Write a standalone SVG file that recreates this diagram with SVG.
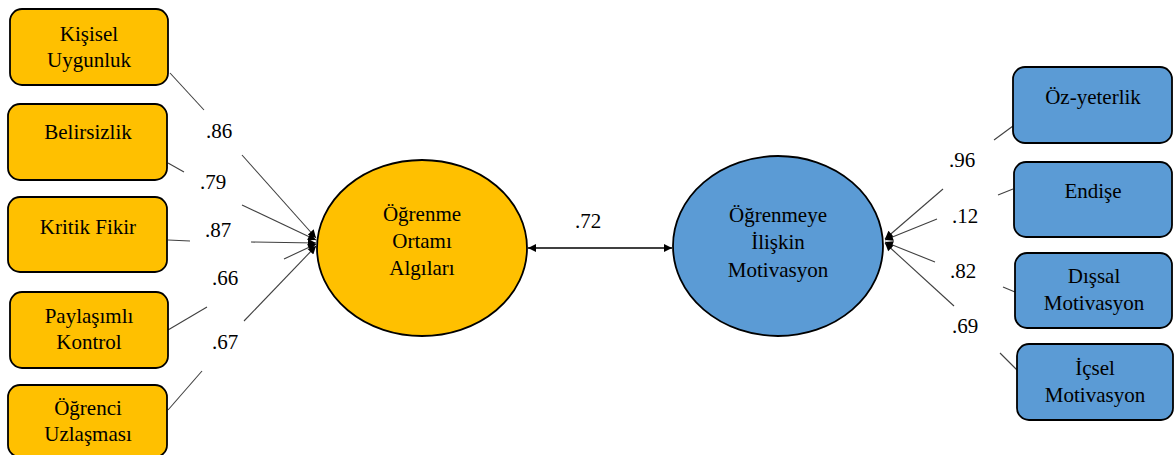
<svg xmlns="http://www.w3.org/2000/svg" width="1174" height="455" viewBox="0 0 1174 455">
<style>
text{font-family:'Liberation Serif','Times New Roman',serif;font-size:21px;fill:#000;text-anchor:middle}
.o{fill:#FFC000;stroke:#000;stroke-width:1.8}
.b{fill:#5B9BD5;stroke:#000;stroke-width:1.8}
.c{stroke:#404040;stroke-width:1.1;fill:none}
.k{stroke:#000;stroke-width:1.3;fill:none}
</style>
<defs>
<marker id="ah" viewBox="0 0 10 10" refX="10" refY="5" markerWidth="10" markerHeight="8" markerUnits="userSpaceOnUse" orient="auto">
<path d="M0,0L10,5L0,10z" fill="#000"/>
</marker>
<marker id="as" viewBox="0 0 10 10" refX="0" refY="5" markerWidth="10" markerHeight="8" markerUnits="userSpaceOnUse" orient="auto">
<path d="M10,0L0,5L10,10z" fill="#000"/>
</marker>
</defs>
<rect width="1174" height="455" fill="#fff"/>

<g id="connectors">
<line class="c" x1="170" y1="73" x2="204" y2="110"/>
<line class="c" x1="242" y1="155" x2="316" y2="238" marker-end="url(#ah)"/>
<line class="c" x1="168" y1="163" x2="184" y2="172"/>
<line class="c" x1="242" y1="205" x2="316" y2="240" marker-end="url(#ah)"/>
<line class="c" x1="168" y1="240" x2="190" y2="241"/>
<line class="c" x1="251" y1="242" x2="316" y2="243" marker-end="url(#ah)"/>
<line class="c" x1="168" y1="330" x2="207" y2="307"/>
<line class="c" x1="284" y1="259" x2="316" y2="244" marker-end="url(#ah)"/>
<line class="c" x1="168" y1="410" x2="202" y2="371"/>
<line class="c" x1="244" y1="321" x2="316" y2="246" marker-end="url(#ah)"/>
<text x="219" y="138">.86</text>
<text x="213" y="189">.79</text>
<text x="218" y="237">.87</text>
<text x="225" y="285">.66</text>
<text x="225" y="349">.67</text>
<line class="k" x1="528" y1="248" x2="672" y2="248" marker-start="url(#as)" marker-end="url(#ah)"/>
<text x="588" y="228">.72</text>
<line class="c" x1="1013" y1="126" x2="994" y2="140"/>
<line class="c" x1="943" y1="189" x2="885" y2="239" marker-end="url(#ah)"/>
<line class="c" x1="1013" y1="189" x2="998" y2="195"/>
<line class="c" x1="937" y1="219" x2="885" y2="240" marker-end="url(#ah)"/>
<line class="c" x1="1015" y1="292" x2="1003" y2="287"/>
<line class="c" x1="935" y1="262" x2="885" y2="242" marker-end="url(#ah)"/>
<line class="c" x1="1017" y1="370" x2="1000" y2="353"/>
<line class="c" x1="954" y1="306" x2="885" y2="243" marker-end="url(#ah)"/>
<text x="962" y="167">.96</text>
<text x="965" y="223">.12</text>
<text x="963" y="278">.82</text>
<text x="965" y="333">.69</text>
</g>

<g id="kisisel"><rect class="o" x="10" y="9" width="158" height="76" rx="12"/><text x="89" y="41">Kişisel</text><text x="89" y="67">Uygunluk</text></g>
<g id="belirsizlik"><rect class="o" x="8" y="104" width="159" height="76" rx="12"/><text x="88" y="139">Belirsizlik</text></g>
<g id="kritik"><rect class="o" x="8" y="197" width="159" height="75" rx="12"/><text x="88" y="234">Kritik Fikir</text></g>
<g id="paylasimli"><rect class="o" x="10" y="292" width="158" height="76" rx="12"/><text x="89" y="323">Paylaşımlı</text><text x="89" y="349">Kontrol</text></g>
<g id="ogrenci"><rect class="o" x="8" y="385" width="159" height="72" rx="12"/><text x="88" y="415">Öğrenci</text><text x="88" y="441">Uzlaşması</text></g>

<g id="oga"><ellipse class="o" cx="422" cy="248" rx="105" ry="88"/><text x="422" y="221">Öğrenme</text><text x="422" y="248">Ortamı</text><text x="422" y="275">Algıları</text></g>
<g id="oim"><ellipse class="b" cx="778" cy="246" rx="105" ry="90"/><text x="778" y="222">Öğrenmeye</text><text x="778" y="249">İlişkin</text><text x="778" y="277">Motivasyon</text></g>

<g id="ozyeterlik"><rect class="b" x="1013" y="67" width="159" height="76" rx="12"/><text x="1093" y="104">Öz-yeterlik</text></g>
<g id="endise"><rect class="b" x="1014" y="162" width="158" height="75" rx="12"/><text x="1093" y="198">Endişe</text></g>
<g id="dissal"><rect class="b" x="1015" y="253" width="157" height="75" rx="12"/><text x="1094" y="283">Dışsal</text><text x="1094" y="310">Motivasyon</text></g>
<g id="icsel"><rect class="b" x="1017" y="344" width="156" height="76" rx="12"/><text x="1095" y="375">İçsel</text><text x="1095" y="402">Motivasyon</text></g>
</svg>
